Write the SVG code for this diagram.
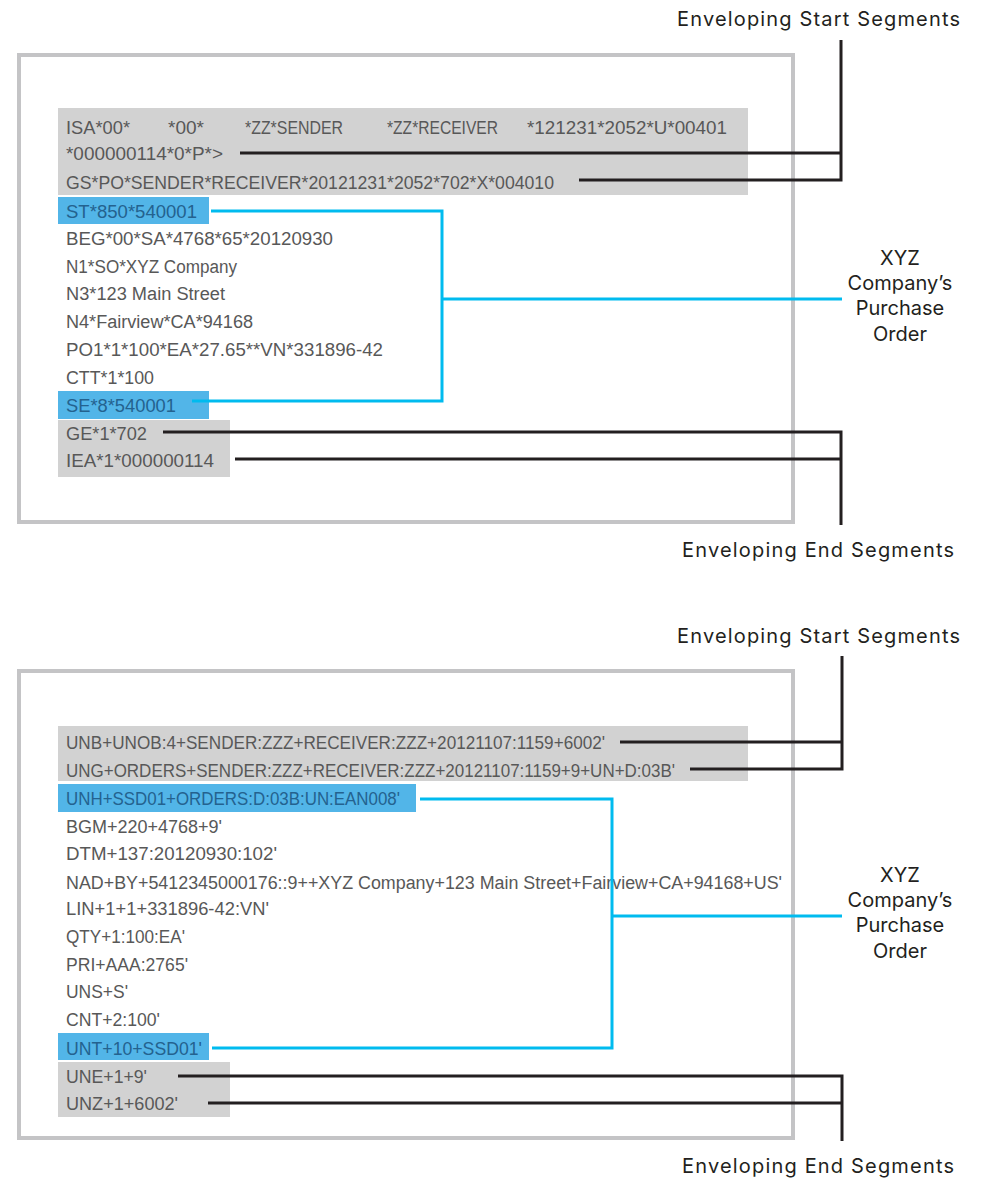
<svg xmlns="http://www.w3.org/2000/svg" width="982" height="1179" viewBox="0 0 982 1179">
<style>
.frame{fill:#fff;stroke:#c4c4c6;stroke-width:4}
.band{fill:#d2d2d2}
.hl{fill:#52b5e8}
.edi{font-family:"Liberation Sans",Arial,sans-serif;font-size:18px;fill:#585858}
.edib{font-family:"Liberation Sans",Arial,sans-serif;font-size:18px;fill:#24628f}
.lbl{font-family:Inter,Roboto,"Liberation Sans",sans-serif;font-size:20px;fill:#231f20}
.blk{fill:none;stroke:#231f20;stroke-width:3}
.cy{fill:none;stroke:#00bbef;stroke-width:3}
</style>
<rect width="982" height="1179" fill="#fff"/>

<g id="x12-document">
<rect class="frame" x="19" y="55" width="774" height="467"/>
<rect class="band" x="58" y="108" width="690" height="87"/>
<rect class="hl" x="58" y="197" width="151" height="27"/>
<rect class="hl" x="58" y="391" width="151" height="28"/>
<rect class="band" x="58" y="420" width="172" height="57"/>
<text class="edi" x="66" y="134" textLength="64" lengthAdjust="spacingAndGlyphs">ISA*00*</text>
<text class="edi" x="168" y="134" textLength="36" lengthAdjust="spacingAndGlyphs">*00*</text>
<text class="edi" x="245" y="134" textLength="98" lengthAdjust="spacingAndGlyphs">*ZZ*SENDER</text>
<text class="edi" x="387" y="134" textLength="111" lengthAdjust="spacingAndGlyphs">*ZZ*RECEIVER</text>
<text class="edi" x="527" y="134" textLength="200" lengthAdjust="spacingAndGlyphs">*121231*2052*U*00401</text>
<text class="edi" x="66" y="160" textLength="157" lengthAdjust="spacingAndGlyphs">*000000114*0*P*&gt;</text>
<text class="edi" x="66" y="189" textLength="488" lengthAdjust="spacingAndGlyphs">GS*PO*SENDER*RECEIVER*20121231*2052*702*X*004010</text>
<text class="edib" x="66" y="218" textLength="131" lengthAdjust="spacingAndGlyphs">ST*850*540001</text>
<text class="edi" x="66" y="245" textLength="267" lengthAdjust="spacingAndGlyphs">BEG*00*SA*4768*65*20120930</text>
<text class="edi" x="66" y="273" textLength="171" lengthAdjust="spacingAndGlyphs">N1*SO*XYZ Company</text>
<text class="edi" x="66" y="300" textLength="159" lengthAdjust="spacingAndGlyphs">N3*123 Main Street</text>
<text class="edi" x="66" y="328" textLength="187" lengthAdjust="spacingAndGlyphs">N4*Fairview*CA*94168</text>
<text class="edi" x="66" y="356" textLength="317" lengthAdjust="spacingAndGlyphs">PO1*1*100*EA*27.65**VN*331896-42</text>
<text class="edi" x="66" y="384" textLength="88" lengthAdjust="spacingAndGlyphs">CTT*1*100</text>
<text class="edib" x="66" y="412" textLength="110" lengthAdjust="spacingAndGlyphs">SE*8*540001</text>
<text class="edi" x="66" y="440" textLength="81" lengthAdjust="spacingAndGlyphs">GE*1*702</text>
<text class="edi" x="66" y="467" textLength="148" lengthAdjust="spacingAndGlyphs">IEA*1*000000114</text>
</g>

<g id="edifact-document">
<rect class="frame" x="19" y="671" width="774" height="467"/>
<rect class="band" x="58" y="726" width="690" height="55"/>
<rect class="hl" x="58" y="784" width="358" height="28"/>
<rect class="hl" x="58" y="1033" width="151" height="27"/>
<rect class="band" x="58" y="1062" width="172" height="55"/>
<text class="edi" x="66" y="749" textLength="539" lengthAdjust="spacingAndGlyphs">UNB+UNOB:4+SENDER:ZZZ+RECEIVER:ZZZ+20121107:1159+6002'</text>
<text class="edi" x="66" y="777" textLength="609" lengthAdjust="spacingAndGlyphs">UNG+ORDERS+SENDER:ZZZ+RECEIVER:ZZZ+20121107:1159+9+UN+D:03B'</text>
<text class="edib" x="66" y="805" textLength="334" lengthAdjust="spacingAndGlyphs">UNH+SSD01+ORDERS:D:03B:UN:EAN008'</text>
<text class="edi" x="66" y="833" textLength="156" lengthAdjust="spacingAndGlyphs">BGM+220+4768+9'</text>
<text class="edi" x="66" y="860" textLength="211" lengthAdjust="spacingAndGlyphs">DTM+137:20120930:102'</text>
<text class="edi" x="66" y="889" textLength="716" lengthAdjust="spacingAndGlyphs">NAD+BY+5412345000176::9++XYZ Company+123 Main Street+Fairview+CA+94168+US'</text>
<text class="edi" x="66" y="915" textLength="203" lengthAdjust="spacingAndGlyphs">LIN+1+1+331896-42:VN'</text>
<text class="edi" x="66" y="943" textLength="119" lengthAdjust="spacingAndGlyphs">QTY+1:100:EA'</text>
<text class="edi" x="66" y="971" textLength="122" lengthAdjust="spacingAndGlyphs">PRI+AAA:2765'</text>
<text class="edi" x="66" y="998" textLength="62" lengthAdjust="spacingAndGlyphs">UNS+S'</text>
<text class="edi" x="66" y="1026" textLength="94" lengthAdjust="spacingAndGlyphs">CNT+2:100'</text>
<text class="edib" x="66" y="1055" textLength="136" lengthAdjust="spacingAndGlyphs">UNT+10+SSD01'</text>
<text class="edi" x="66" y="1083" textLength="81" lengthAdjust="spacingAndGlyphs">UNE+1+9'</text>
<text class="edi" x="66" y="1110" textLength="112" lengthAdjust="spacingAndGlyphs">UNZ+1+6002'</text>
</g>

<g id="labels">
<text class="lbl" x="677" y="26" textLength="283" lengthAdjust="spacing">Enveloping Start Segments</text>
<text class="lbl" x="682" y="557" textLength="272" lengthAdjust="spacing">Enveloping End Segments</text>
<text class="lbl" x="677" y="643" textLength="283" lengthAdjust="spacing">Enveloping Start Segments</text>
<text class="lbl" x="682" y="1173" textLength="272" lengthAdjust="spacing">Enveloping End Segments</text>
<g text-anchor="middle">
<text class="lbl" x="900" y="265">XYZ</text>
<text class="lbl" x="900" y="290">Company’s</text>
<text class="lbl" x="900" y="315">Purchase</text>
<text class="lbl" x="900" y="341">Order</text>
<text class="lbl" x="900" y="882">XYZ</text>
<text class="lbl" x="900" y="907">Company’s</text>
<text class="lbl" x="900" y="932">Purchase</text>
<text class="lbl" x="900" y="958">Order</text>
</g>
</g>

<g id="connectors">
<path class="blk" d="M240,153H841M579,180H841M841,40V181.5"/>
<path class="blk" d="M163,432H841M235,459H841M841,430.5V525"/>
<path class="cy" d="M211,211H442V401H192M442,299H842"/>
<path class="blk" d="M620,742H842M690,769H842M842,656V770.5"/>
<path class="blk" d="M178,1076H842M208,1103H842M842,1074.5V1141"/>
<path class="cy" d="M420,799H612V1048H212M612,916H842"/>
</g>
</svg>
